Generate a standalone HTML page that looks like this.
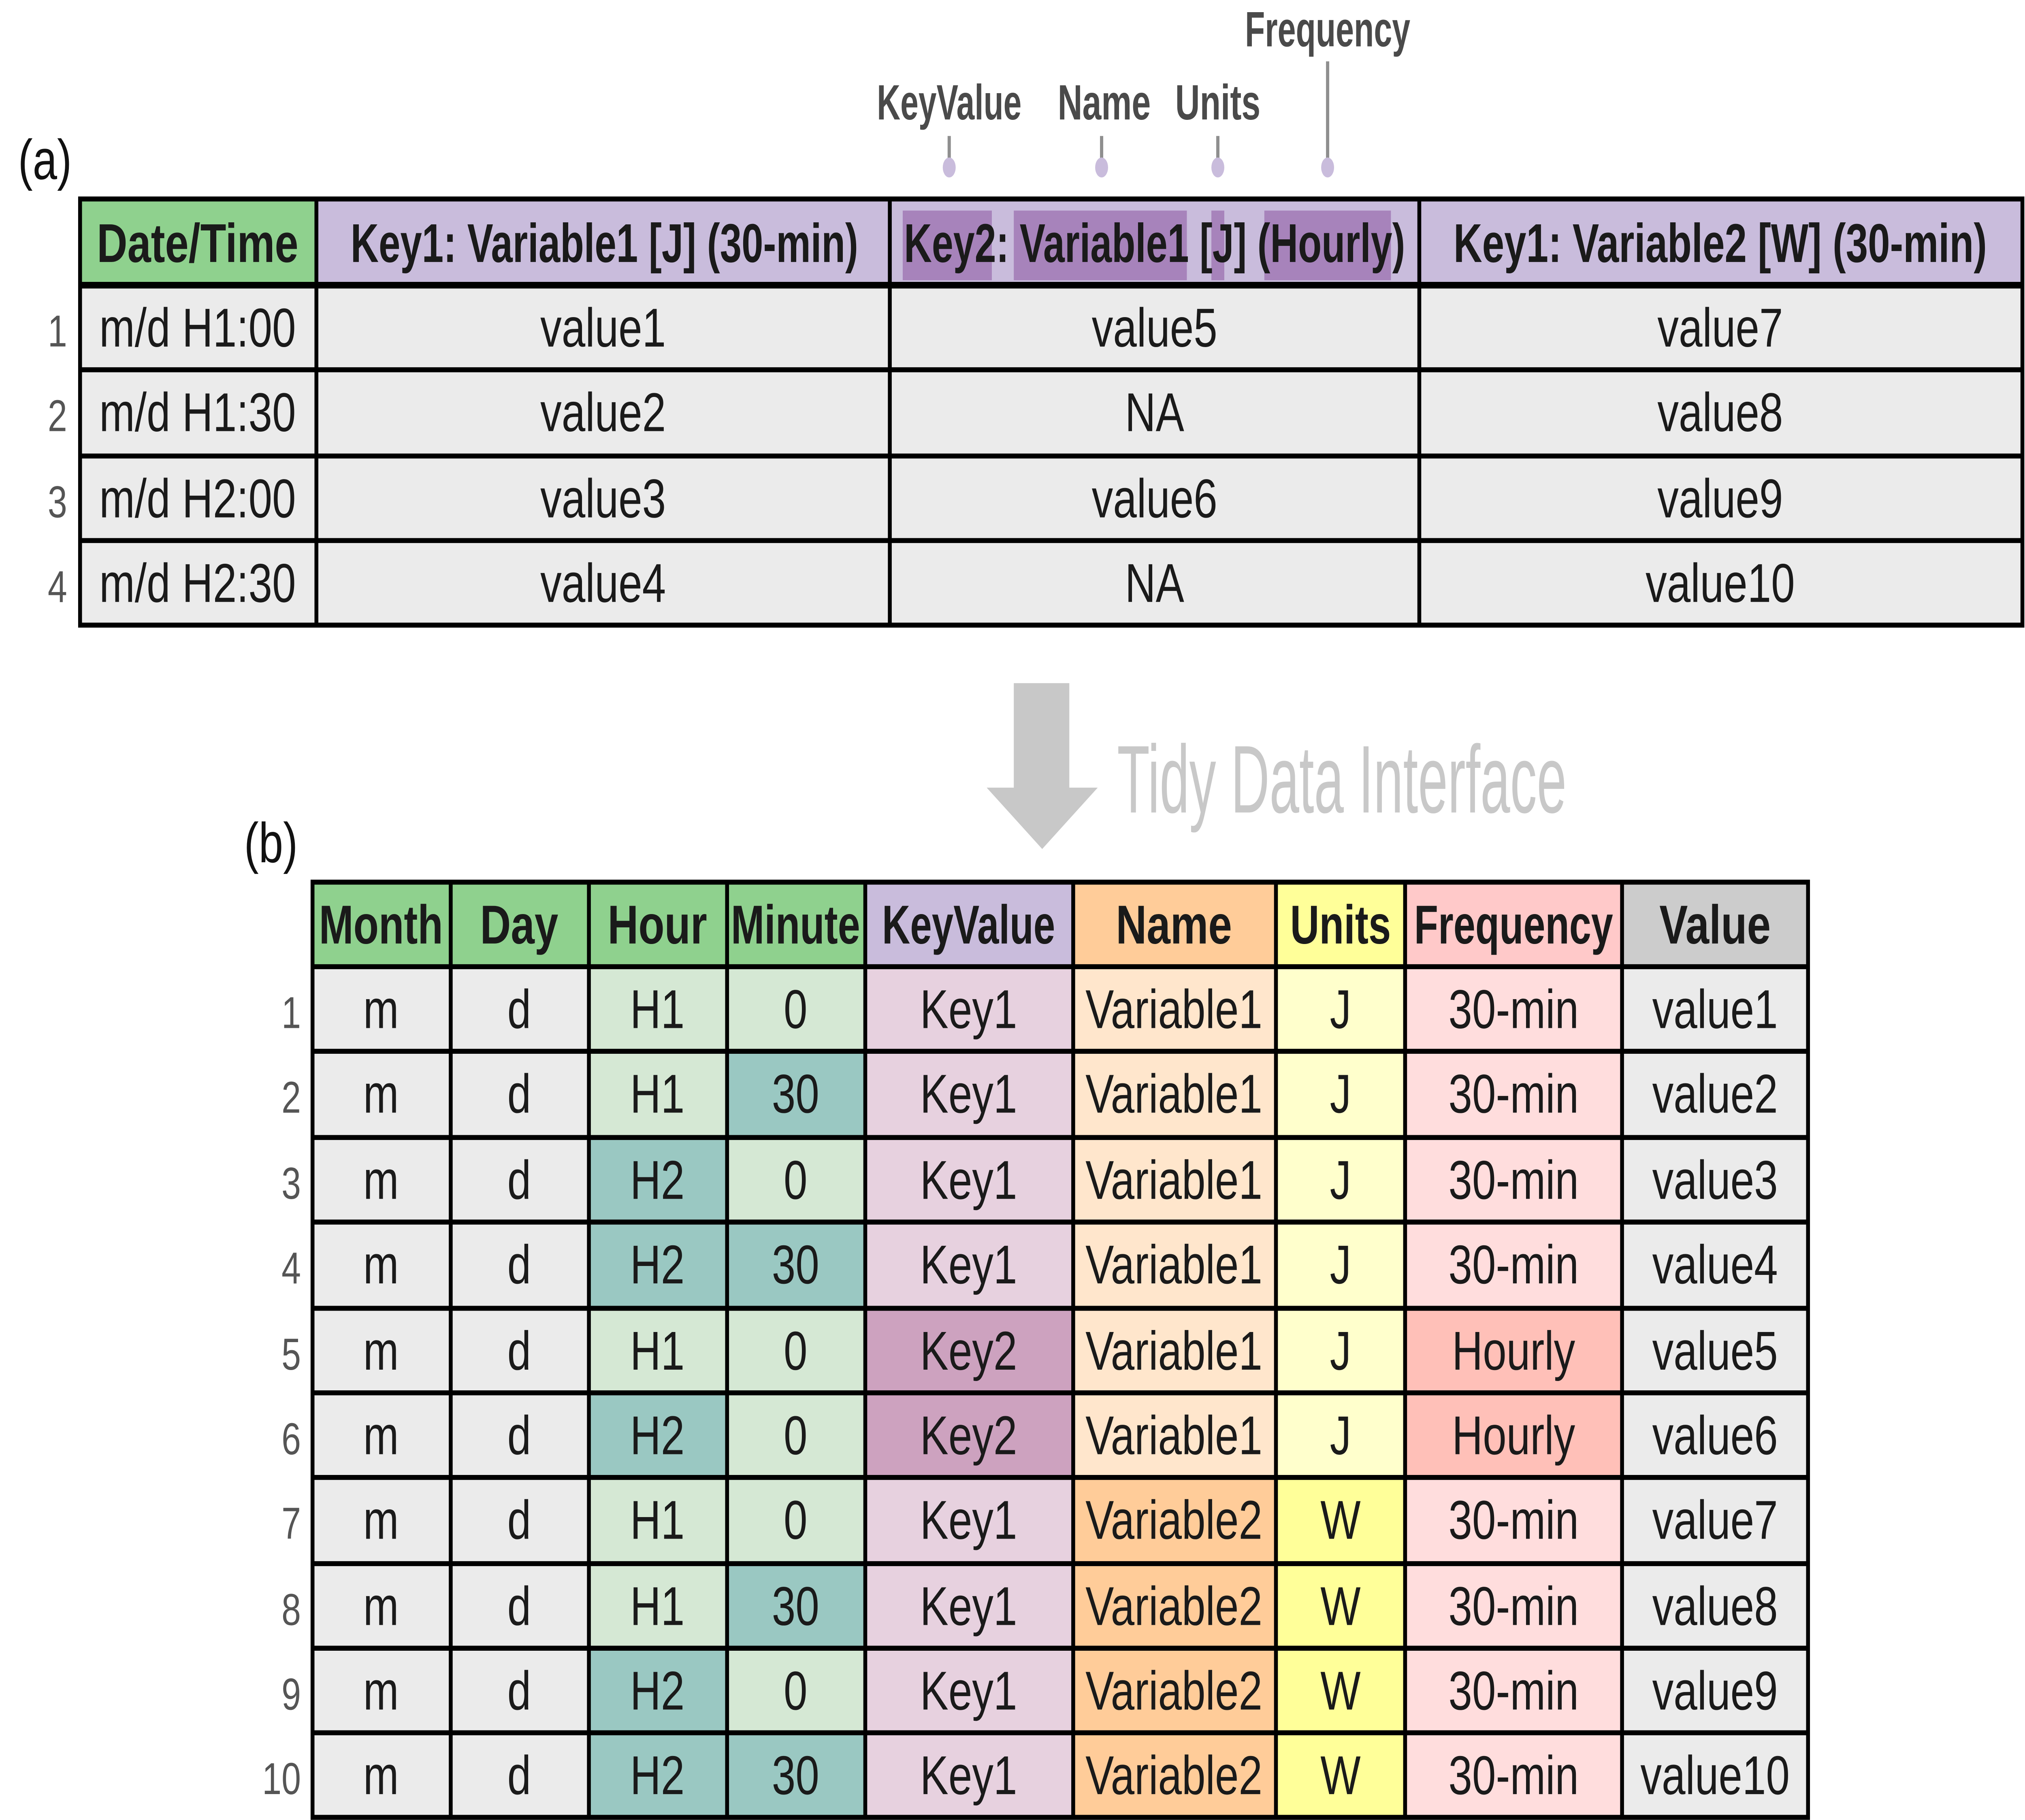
<!DOCTYPE html>
<html><head><meta charset="utf-8"><style>
html,body{margin:0;padding:0;background:#fff;width:100%;height:100%;overflow:hidden;}
svg{display:block;width:100vw;height:100vh;}
text{font-family:"Liberation Sans Narrow","Liberation Sans",sans-serif;}
.h{font-weight:bold;font-size:33px;fill:#1a1a1a;text-anchor:middle;}
.b{font-size:33px;fill:#1a1a1a;text-anchor:middle;}
.n{font-size:27px;fill:#555;text-anchor:end;}
.l{font-weight:bold;font-size:30px;fill:#4a4a4a;text-anchor:middle;}
</style></head><body>
<svg viewBox="0 0 1568 1097.6" preserveAspectRatio="none" xmlns="http://www.w3.org/2000/svg">
<rect width="1568" height="1098" fill="#fff"/>
<text x="14" y="108" font-size="34" fill="#111">(a)</text>
<text x="189" y="520" font-size="34" fill="#111">(b)</text>
<g stroke="#8f8f8f" stroke-width="2.5">
<line x1="735" y1="82" x2="735" y2="96"/><line x1="853" y1="82" x2="853" y2="96"/>
<line x1="943" y1="82" x2="943" y2="96"/><line x1="1028" y1="37" x2="1028" y2="96"/>
</g>
<g fill="#c9bcdc">
<ellipse cx="735" cy="101" rx="5" ry="6"/><ellipse cx="853" cy="101" rx="5" ry="6"/>
<ellipse cx="943" cy="101" rx="5" ry="6"/><ellipse cx="1028" cy="101" rx="5" ry="6"/>
</g>
<text class="l" x="735" y="72" textLength="112" lengthAdjust="spacingAndGlyphs">KeyValue</text>
<text class="l" x="855" y="72" textLength="72" lengthAdjust="spacingAndGlyphs">Name</text>
<text class="l" x="943" y="72" textLength="66" lengthAdjust="spacingAndGlyphs">Units</text>
<text class="l" x="1028" y="28" textLength="128" lengthAdjust="spacingAndGlyphs">Frequency</text>

<rect x="62" y="120" width="183" height="52" fill="#8fd18e"/>
<rect x="245" y="120" width="1321" height="52" fill="#c9bcdc"/>
<g fill="#a783bb">
<rect x="699" y="127" width="69" height="42"/><rect x="785" y="127" width="134" height="42"/>
<rect x="938" y="127" width="10" height="42"/><rect x="979" y="127" width="98" height="42"/>
</g>
<rect x="62" y="172" width="1504" height="205" fill="#ebebeb"/>
<g stroke="#000" stroke-width="3" fill="none">
<rect x="62" y="120" width="1504" height="257"/>
<line x1="62" y1="172" x2="1566" y2="172" stroke-width="4"/>
<line x1="62" y1="223" x2="1566" y2="223"/><line x1="62" y1="275" x2="1566" y2="275"/>
<line x1="62" y1="326" x2="1566" y2="326"/>
<line x1="245" y1="120" x2="245" y2="377"/><line x1="689" y1="120" x2="689" y2="377"/>
<line x1="1099" y1="120" x2="1099" y2="377"/>
</g>
<text class="h" x="153" y="158" textLength="156" lengthAdjust="spacingAndGlyphs">Date/Time</text>
<text class="h" x="468" y="158" textLength="393" lengthAdjust="spacingAndGlyphs">Key1: Variable1 [J] (30-min)</text>
<text class="h" x="894" y="158" textLength="388" lengthAdjust="spacingAndGlyphs">Key2: Variable1 [J] (Hourly)</text>
<text class="h" x="1332" y="158" textLength="413" lengthAdjust="spacingAndGlyphs">Key1: Variable2 [W] (30-min)</text>
<g class="b">
<text x="153" y="209">m/d H1:00</text><text x="467" y="209">value1</text><text x="894" y="209">value5</text><text x="1332" y="209">value7</text>
<text x="153" y="260">m/d H1:30</text><text x="467" y="260">value2</text><text x="894" y="260">NA</text><text x="1332" y="260">value8</text>
<text x="153" y="312">m/d H2:00</text><text x="467" y="312">value3</text><text x="894" y="312">value6</text><text x="1332" y="312">value9</text>
<text x="153" y="363">m/d H2:30</text><text x="467" y="363">value4</text><text x="894" y="363">NA</text><text x="1332" y="363">value10</text>
</g>
<g class="n">
<text x="52" y="209">1</text><text x="52" y="260">2</text><text x="52" y="312">3</text><text x="52" y="363">4</text>
</g>

<path d="M785 412 H828 V475 H850 L807 512 L764 475 H785 Z" fill="#c8c8c8"/>
<text x="865" y="490" font-size="58" fill="#c8c8c8" textLength="348" lengthAdjust="spacingAndGlyphs">Tidy Data Interface</text>

<rect x="242" y="532" width="428" height="51" fill="#8fd18e"/>
<rect x="670" y="532" width="161" height="51" fill="#c9bcdc"/>
<rect x="831" y="532" width="157" height="51" fill="#ffcc99"/>
<rect x="988" y="532" width="100" height="51" fill="#ffff99"/>
<rect x="1088" y="532" width="168" height="51" fill="#ffc9c9"/>
<rect x="1256" y="532" width="144" height="51" fill="#cccccc"/>
<rect x="242" y="583" width="214" height="513" fill="#ebebeb"/>
<rect x="456" y="583" width="214" height="513" fill="#d5e8d4"/>
<rect x="670" y="583" width="161" height="513" fill="#e7d1df"/>
<rect x="831" y="583" width="157" height="308" fill="#ffe6cc"/>
<rect x="831" y="891" width="157" height="205" fill="#ffcc99"/>
<rect x="988" y="583" width="100" height="308" fill="#ffffcc"/>
<rect x="988" y="891" width="100" height="205" fill="#ffff99"/>
<rect x="1088" y="583" width="168" height="513" fill="#ffdddd"/>
<rect x="1256" y="583" width="144" height="513" fill="#ebebeb"/>
<g fill="#9ac8c2">
<rect x="456" y="686" width="107" height="103"/>
<rect x="456" y="840" width="107" height="51"/>
<rect x="456" y="994" width="107" height="102"/>
<rect x="563" y="634" width="107" height="52"/>
<rect x="563" y="737" width="107" height="52"/>
<rect x="563" y="943" width="107" height="51"/>
<rect x="563" y="1045" width="107" height="51"/>
</g>
<rect x="670" y="789" width="161" height="102" fill="#cda2bf"/>
<rect x="1088" y="789" width="168" height="102" fill="#ffc0b8"/>
<g stroke="#000" stroke-width="3" fill="none">
<rect x="242" y="532" width="1158" height="564"/>
<line x1="242" y1="583" x2="1400" y2="583"/><line x1="242" y1="634" x2="1400" y2="634"/>
<line x1="242" y1="686" x2="1400" y2="686"/><line x1="242" y1="737" x2="1400" y2="737"/>
<line x1="242" y1="789" x2="1400" y2="789"/><line x1="242" y1="840" x2="1400" y2="840"/>
<line x1="242" y1="891" x2="1400" y2="891"/><line x1="242" y1="943" x2="1400" y2="943"/>
<line x1="242" y1="994" x2="1400" y2="994"/><line x1="242" y1="1045" x2="1400" y2="1045"/>
<line x1="349" y1="532" x2="349" y2="1096"/><line x1="456" y1="532" x2="456" y2="1096"/>
<line x1="563" y1="532" x2="563" y2="1096"/><line x1="670" y1="532" x2="670" y2="1096"/>
<line x1="831" y1="532" x2="831" y2="1096"/><line x1="988" y1="532" x2="988" y2="1096"/>
<line x1="1088" y1="532" x2="1088" y2="1096"/><line x1="1256" y1="532" x2="1256" y2="1096"/>
</g>
<text class="h" x="295" y="569" textLength="96" lengthAdjust="spacingAndGlyphs">Month</text>
<text class="h" x="402" y="569">Day</text>
<text class="h" x="509" y="569">Hour</text>
<text class="h" x="616" y="569" textLength="100" lengthAdjust="spacingAndGlyphs">Minute</text>
<text class="h" x="750" y="569" textLength="134" lengthAdjust="spacingAndGlyphs">KeyValue</text>
<text class="h" x="909" y="569">Name</text>
<text class="h" x="1038" y="569" textLength="78" lengthAdjust="spacingAndGlyphs">Units</text>
<text class="h" x="1172" y="569" textLength="154" lengthAdjust="spacingAndGlyphs">Frequency</text>
<text class="h" x="1328" y="569">Value</text>
<g class="b">
<text x="295" y="620">m</text><text x="402" y="620">d</text><text x="509" y="620">H1</text><text x="616" y="620">0</text><text x="750" y="620">Key1</text><text x="909" y="620">Variable1</text><text x="1038" y="620">J</text><text x="1172" y="620">30-min</text><text x="1328" y="620">value1</text>
<text x="295" y="671">m</text><text x="402" y="671">d</text><text x="509" y="671">H1</text><text x="616" y="671">30</text><text x="750" y="671">Key1</text><text x="909" y="671">Variable1</text><text x="1038" y="671">J</text><text x="1172" y="671">30-min</text><text x="1328" y="671">value2</text>
<text x="295" y="723">m</text><text x="402" y="723">d</text><text x="509" y="723">H2</text><text x="616" y="723">0</text><text x="750" y="723">Key1</text><text x="909" y="723">Variable1</text><text x="1038" y="723">J</text><text x="1172" y="723">30-min</text><text x="1328" y="723">value3</text>
<text x="295" y="774">m</text><text x="402" y="774">d</text><text x="509" y="774">H2</text><text x="616" y="774">30</text><text x="750" y="774">Key1</text><text x="909" y="774">Variable1</text><text x="1038" y="774">J</text><text x="1172" y="774">30-min</text><text x="1328" y="774">value4</text>
<text x="295" y="826">m</text><text x="402" y="826">d</text><text x="509" y="826">H1</text><text x="616" y="826">0</text><text x="750" y="826">Key2</text><text x="909" y="826">Variable1</text><text x="1038" y="826">J</text><text x="1172" y="826">Hourly</text><text x="1328" y="826">value5</text>
<text x="295" y="877">m</text><text x="402" y="877">d</text><text x="509" y="877">H2</text><text x="616" y="877">0</text><text x="750" y="877">Key2</text><text x="909" y="877">Variable1</text><text x="1038" y="877">J</text><text x="1172" y="877">Hourly</text><text x="1328" y="877">value6</text>
<text x="295" y="928">m</text><text x="402" y="928">d</text><text x="509" y="928">H1</text><text x="616" y="928">0</text><text x="750" y="928">Key1</text><text x="909" y="928">Variable2</text><text x="1038" y="928">W</text><text x="1172" y="928">30-min</text><text x="1328" y="928">value7</text>
<text x="295" y="980">m</text><text x="402" y="980">d</text><text x="509" y="980">H1</text><text x="616" y="980">30</text><text x="750" y="980">Key1</text><text x="909" y="980">Variable2</text><text x="1038" y="980">W</text><text x="1172" y="980">30-min</text><text x="1328" y="980">value8</text>
<text x="295" y="1031">m</text><text x="402" y="1031">d</text><text x="509" y="1031">H2</text><text x="616" y="1031">0</text><text x="750" y="1031">Key1</text><text x="909" y="1031">Variable2</text><text x="1038" y="1031">W</text><text x="1172" y="1031">30-min</text><text x="1328" y="1031">value9</text>
<text x="295" y="1082">m</text><text x="402" y="1082">d</text><text x="509" y="1082">H2</text><text x="616" y="1082">30</text><text x="750" y="1082">Key1</text><text x="909" y="1082">Variable2</text><text x="1038" y="1082">W</text><text x="1172" y="1082">30-min</text><text x="1328" y="1082">value10</text>
</g>
<g class="n">
<text x="233" y="620">1</text><text x="233" y="671">2</text><text x="233" y="723">3</text><text x="233" y="774">4</text>
<text x="233" y="826">5</text><text x="233" y="877">6</text><text x="233" y="928">7</text><text x="233" y="980">8</text>
<text x="233" y="1031">9</text><text x="233" y="1082">10</text>
</g>
</svg>
</body></html>
